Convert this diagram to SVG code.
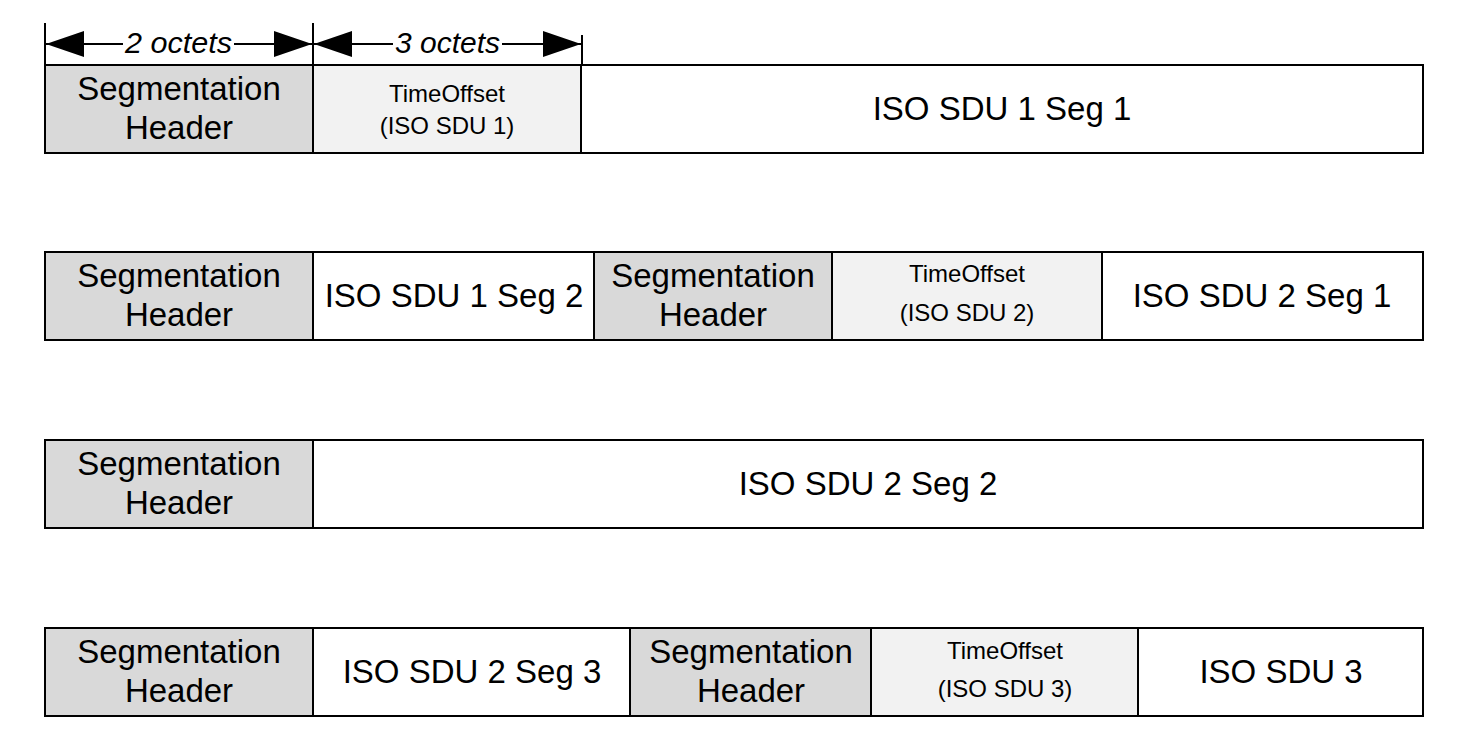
<svg xmlns="http://www.w3.org/2000/svg" width="1471" height="753" viewBox="0 0 1471 753">
<style>
.box{stroke:#000;stroke-width:2}
.hdr{fill:#d9d9d9}
.to{fill:#f2f2f2}
.wh{fill:#fff}
.t{font-family:"Liberation Sans",Arial,sans-serif;font-size:33px;text-anchor:middle;fill:#000}
.s{font-family:"Liberation Sans",Arial,sans-serif;font-size:24px;text-anchor:middle;fill:#000}
.dim{font-family:"Liberation Sans",Arial,sans-serif;font-size:29px;font-style:italic;fill:#000}
.ln{stroke:#000;stroke-width:2;fill:none}
</style>
<defs>
<marker id="ah" viewBox="0 0 38 26" refX="38" refY="13" markerWidth="38" markerHeight="26" markerUnits="userSpaceOnUse" orient="auto-start-reverse">
<path d="M0,0 L38,13 L0,26 Z" fill="#000"/>
</marker>
</defs>
<rect width="1471" height="753" fill="#fff"/>
<g id="connectors">
<line class="ln" x1="45" y1="23" x2="45" y2="64"/>
<line class="ln" x1="313" y1="23" x2="313" y2="64"/>
<line class="ln" x1="582" y1="35" x2="582" y2="64"/>
<line class="ln" x1="46" y1="44" x2="123" y2="44" marker-start="url(#ah)"/>
<line class="ln" x1="234" y1="44" x2="312" y2="44" marker-end="url(#ah)"/>
<line class="ln" x1="314" y1="44" x2="393" y2="44" marker-start="url(#ah)"/>
<line class="ln" x1="502" y1="44" x2="581" y2="44" marker-end="url(#ah)"/>
<text class="dim" x="125" y="53" textLength="107" lengthAdjust="spacingAndGlyphs">2 octets</text>
<text class="dim" x="395" y="53" textLength="105" lengthAdjust="spacingAndGlyphs">3 octets</text>
</g>
<g id="row1">
<rect class="box hdr" x="45" y="65" width="268" height="88"/>
<rect class="box to" x="313" y="65" width="268" height="88"/>
<rect class="box wh" x="581" y="65" width="842" height="88"/>
<text class="t" x="179" y="100">Segmentation</text>
<text class="t" x="179" y="139">Header</text>
<text class="s" x="447" y="102">TimeOffset</text>
<text class="s" x="447" y="134">(ISO SDU 1)</text>
<text class="t" x="1002" y="120">ISO SDU 1 Seg 1</text>
</g>
<g id="row2">
<rect class="box hdr" x="45" y="252" width="268" height="88"/>
<rect class="box wh" x="313" y="252" width="281" height="88"/>
<rect class="box hdr" x="594" y="252" width="238" height="88"/>
<rect class="box to" x="832" y="252" width="270" height="88"/>
<rect class="box wh" x="1102" y="252" width="321" height="88"/>
<text class="t" x="179" y="287">Segmentation</text>
<text class="t" x="179" y="326">Header</text>
<text class="t" x="454" y="307">ISO SDU 1 Seg 2</text>
<text class="t" x="713" y="287">Segmentation</text>
<text class="t" x="713" y="326">Header</text>
<text class="s" x="967" y="282">TimeOffset</text>
<text class="s" x="967" y="321">(ISO SDU 2)</text>
<text class="t" x="1262" y="307">ISO SDU 2 Seg 1</text>
</g>
<g id="row3">
<rect class="box hdr" x="45" y="440" width="268" height="88"/>
<rect class="box wh" x="313" y="440" width="1110" height="88"/>
<text class="t" x="179" y="475">Segmentation</text>
<text class="t" x="179" y="514">Header</text>
<text class="t" x="868" y="495">ISO SDU 2 Seg 2</text>
</g>
<g id="row4">
<rect class="box hdr" x="45" y="628" width="268" height="88"/>
<rect class="box wh" x="313" y="628" width="317" height="88"/>
<rect class="box hdr" x="630" y="628" width="241" height="88"/>
<rect class="box to" x="871" y="628" width="267" height="88"/>
<rect class="box wh" x="1138" y="628" width="285" height="88"/>
<text class="t" x="179" y="663">Segmentation</text>
<text class="t" x="179" y="702">Header</text>
<text class="t" x="472" y="683">ISO SDU 2 Seg 3</text>
<text class="t" x="751" y="663">Segmentation</text>
<text class="t" x="751" y="702">Header</text>
<text class="s" x="1005" y="659">TimeOffset</text>
<text class="s" x="1005" y="697">(ISO SDU 3)</text>
<text class="t" x="1281" y="683">ISO SDU 3</text>
</g>
</svg>
